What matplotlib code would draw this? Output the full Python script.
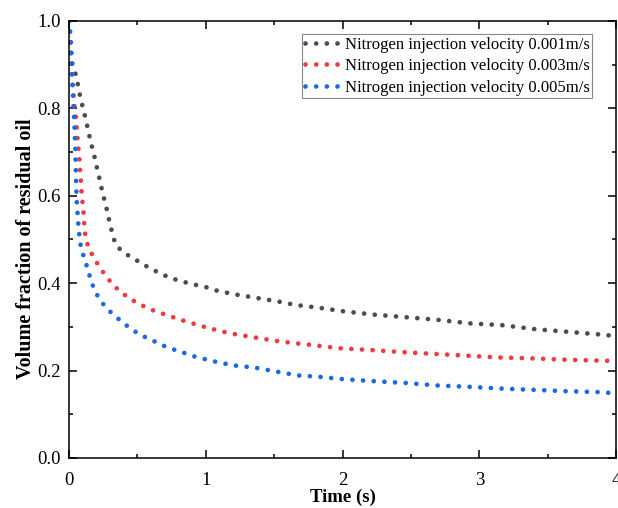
import numpy as np
import matplotlib
matplotlib.use("Agg")
import matplotlib.pyplot as plt
from matplotlib.ticker import MultipleLocator

# values
t_001 = [0.0, 0.02, 0.044, 0.061, 0.075, 0.093, 0.112, 0.129, 0.146, 0.163, 0.183, 0.200,
         0.217, 0.234, 0.251, 0.271, 0.288, 0.305, 0.324, 0.344, 0.41, 0.48, 0.548, 0.619,
         0.69, 0.763, 0.839, 0.914, 0.992, 1.068, 1.143, 1.221, 1.30, 1.377, 1.455, 1.533,
         1.611, 1.689, 1.767, 1.845, 1.999, 2.233, 2.469, 2.70, 2.935, 3.166, 3.403, 3.637,
         3.871, 4.0]
v_001 = [1.0, 0.907, 0.884, 0.861, 0.837, 0.812, 0.789, 0.766, 0.741, 0.718, 0.694, 0.670,
         0.647, 0.623, 0.600, 0.576, 0.552, 0.529, 0.505, 0.486, 0.468, 0.455, 0.442, 0.430,
         0.419, 0.410, 0.403, 0.397, 0.392, 0.384, 0.379, 0.374, 0.370, 0.366, 0.362, 0.358,
         0.353, 0.349, 0.346, 0.343, 0.336, 0.328, 0.322, 0.316, 0.308, 0.304, 0.295, 0.289,
         0.283, 0.279]

t_003 = [0.0, 0.02, 0.032, 0.039, 0.049, 0.056, 0.061, 0.068, 0.075, 0.080, 0.086, 0.090,
         0.097, 0.105, 0.11, 0.115, 0.127, 0.154, 0.192, 0.234, 0.278, 0.329, 0.39, 0.458,
         0.529, 0.605, 0.678, 0.753, 0.829, 0.904, 0.98, 1.051, 1.126, 1.202, 1.355, 1.514,
         1.67, 1.738, 1.982, 2.213, 2.45, 2.68, 2.92, 3.152, 3.388, 3.625, 3.859, 4.0]
v_003 = [1.0, 0.880, 0.834, 0.809, 0.785, 0.760, 0.736, 0.712, 0.688, 0.664, 0.639, 0.616,
         0.591, 0.568, 0.543, 0.519, 0.496, 0.474, 0.453, 0.432, 0.413, 0.394, 0.377, 0.362,
         0.350, 0.339, 0.331, 0.323, 0.315, 0.308, 0.301, 0.295, 0.289, 0.284, 0.276, 0.268,
         0.262, 0.260, 0.251, 0.247, 0.242, 0.238, 0.234, 0.230, 0.228, 0.225, 0.223, 0.222]

t_005 = [0.0, 0.007, 0.013, 0.016, 0.018, 0.022, 0.025, 0.029, 0.032, 0.036, 0.040, 0.046,
         0.051, 0.056, 0.061, 0.066, 0.073, 0.08, 0.097, 0.122, 0.144, 0.166, 0.195, 0.232,
         0.283, 0.344, 0.405, 0.47, 0.534, 0.605, 0.675, 0.748, 0.821, 0.897, 0.973, 1.048,
         1.124, 1.20, 1.355, 1.514, 1.67, 1.823, 1.982, 2.213, 2.45, 2.689, 2.92, 3.157,
         3.395, 3.627, 3.859, 4.0]
v_005 = [1.0, 0.981, 0.957, 0.932, 0.907, 0.884, 0.859, 0.834, 0.809, 0.785, 0.760, 0.712,
         0.639, 0.591, 0.568, 0.543, 0.519, 0.494, 0.471, 0.448, 0.424, 0.401, 0.379, 0.359,
         0.340, 0.323, 0.307, 0.292, 0.280, 0.270, 0.259, 0.250, 0.243, 0.234, 0.228, 0.222,
         0.217, 0.212, 0.207, 0.198, 0.189, 0.186, 0.181, 0.176, 0.172, 0.166, 0.163, 0.159,
         0.156, 0.153, 0.151, 0.148]

labels = ["Nitrogen injection velocity 0.001m/s",
          "Nitrogen injection velocity 0.003m/s",
          "Nitrogen injection velocity 0.005m/s"]
colors = ["#4d4d4d", "#f23a3d", "#1a6ae3"]

plt.rcParams['font.family'] = ['Liberation Serif', 'DejaVu Serif']

fig = plt.figure(figsize=(6.18, 5.08), dpi=100)
ax = fig.add_axes([69/618, 50/508, 547/618, 437/508])

series = [(t_001, v_001), (t_003, v_003), (t_005, v_005)]
for (t, v), c, lab in zip(series, colors, labels):
    ax.plot(t, v, color=c, lw=3.4, linestyle=(0, (0.01, 2.25)),
            dash_capstyle='round', label=lab)

ax.set_xlim(0, 4)
ax.set_ylim(0, 1.0)
ax.xaxis.set_major_locator(MultipleLocator(1))
ax.xaxis.set_minor_locator(MultipleLocator(0.5))
ax.yaxis.set_major_locator(MultipleLocator(0.2))
ax.yaxis.set_minor_locator(MultipleLocator(0.1))
ax.yaxis.set_major_formatter(matplotlib.ticker.FormatStrFormatter('%.1f'))
ax.tick_params(which='both', direction='in', top=True, right=True, width=1.1,
               labelsize=13.5)
ax.tick_params(which='major', length=6)
ax.tick_params(which='minor', length=3)
ax.tick_params(axis='x', pad=10)
ax.tick_params(axis='y', pad=6)
for s in ax.spines.values():
    s.set_linewidth(1.1)

ax.set_xlabel("Time (s)", fontsize=13.5, fontweight='bold', labelpad=0)
ax.set_ylabel("Volume fraction of residual oil", fontsize=14.5, fontweight='bold')
ax.yaxis.set_label_coords(-0.061, 0.48)

leg = ax.legend(loc='upper right', bbox_to_anchor=(0.956, 0.970), borderaxespad=0,
                fontsize=12, fancybox=False, edgecolor='#888888', framealpha=1,
                handlelength=2.0, handletextpad=0.4, labelspacing=0.33,
                borderpad=0.15)
leg.get_frame().set_linewidth(0.8)

fig.savefig("out.png", dpi=100)
